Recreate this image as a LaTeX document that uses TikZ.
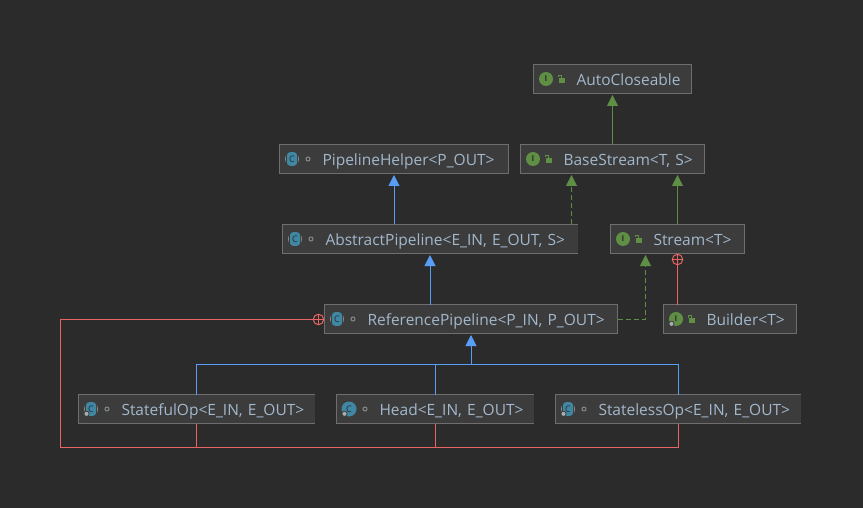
\documentclass[tikz,border=0pt]{standalone}
\usepackage{fontspec}
\setmainfont{Open Sans}
\usetikzlibrary{arrows.meta}
\definecolor{bgcol}{HTML}{2B2B2B}
\definecolor{boxcol}{HTML}{3C3C3C}
\definecolor{edgecol}{HTML}{6E6E6E}
\definecolor{textcol}{HTML}{A3B8CC}
\definecolor{bluecol}{HTML}{589DF6}
\definecolor{greencol}{HTML}{5F8F45}
\definecolor{redcol}{HTML}{E86464}
\definecolor{tealcol}{HTML}{3F87A3}
\definecolor{greycol}{HTML}{858A8C}
\tikzset{
  umlbox/.style={anchor=north west,fill=boxcol,inner xsep=0pt,inner ysep=0pt,outer sep=0pt,
    minimum height=29pt,align=left,text=textcol,font=\fontsize{15.5}{17}\selectfont,text height=14pt,text depth=1pt},
  framed/.style={draw=edgecol,line width=1pt},
  blueline/.style={draw=bluecol,line width=1pt},
  greenline/.style={draw=greencol,line width=1pt},
  redline/.style={draw=redcol,line width=1pt},
  dashline/.style={dash pattern=on 5pt off 3pt},
  bluearrow/.style={blueline,-{Triangle[width=11pt,length=11pt,fill=bluecol]},shorten >=1.5pt},
  greenarrow/.style={greenline,-{Triangle[width=11pt,length=11pt,fill=greencol]},shorten >=1.5pt},
  plusmark/.style={circle,draw=redcol,line width=1pt,minimum size=10.5pt,inner sep=0pt,outer sep=0pt,
    path picture={\draw[redcol,line width=1pt] (path picture bounding box.north) -- (path picture bounding box.south)
      (path picture bounding box.west) -- (path picture bounding box.east);}},
  ifaceicon/.pic={
    \fill[greencol] (12.5,0) circle (7pt);
    \node[text=bgcol,font=\fontsize{8}{8}\bfseries\selectfont,inner sep=0pt] at (12.5,0) {I};
    \fill[greencol] (25.8,-0.7) rectangle (31.5,3.7);
    \draw[greencol,line width=1pt] (24.5,-1.5) -- (24.5,-3.7) -- (27.5,-3.7) -- (27.5,-0.7);
  },
  classicon/.pic={
    \fill[greycol] (12.5,0) circle (7pt);
    \fill[boxcol] (6.5,-8) rectangle (18.5,8);
    \fill[tealcol,rounded corners=3pt] (7.5,-6.8) rectangle (17.5,6.8);
    \node[text=bgcol,font=\fontsize{9}{9}\selectfont,inner sep=0pt] at (12.5,0) {C};
    \draw[greycol,line width=1pt] (28.5,0) circle (2pt);
  },
  roundicon/.pic={
    \fill[tealcol] (12.5,0) circle (7.5pt);
    \node[text=bgcol,font=\fontsize{9}{9}\selectfont,inner sep=0pt] at (12.5,0) {C};
    \draw[greycol,line width=1pt] (28.5,0) circle (2pt);
  },
  gearicon/.pic={
    \draw[boxcol,line width=0.8pt,fill=greycol!70!white] (8,4.8) circle (2.6pt);
  }
}
\begin{document}
\begin{tikzpicture}[x=1pt,y=-1pt]
\fill[bgcol] (0,0) rectangle (863,508);
\useasboundingbox (0,0) rectangle (863,508);
% class boxes
\foreach \n/\x/\y/\w/\txt in {
  auto/533.5/64.5/158/AutoCloseable,
  helper/279.5/144.5/229/{PipelineHelper<P\_OUT>},
  base/520.5/144.5/184/{BaseStream<T, S>},
  abs/282.5/224.5/295/{AbstractPipeline<E\_IN, E\_OUT, S>},
  stream/610.5/224.5/134/{Stream<T>},
  ref/324.5/304.5/293/{ReferencePipeline<P\_IN, P\_OUT>},
  builder/663.5/304.5/133/{Builder<T>},
  stateful/78.5/394.5/236.5/{StatefulOp<E\_IN, E\_OUT>},
  head/336.5/394.5/197.5/{Head<E\_IN, E\_OUT>},
  stateless/555.5/394.5/245.5/{StatelessOp<E\_IN, E\_OUT>}}
  \node[umlbox,text width=\w pt] (\n) at (\x,\y) {\hspace*{43pt}\txt};
\foreach \n in {auto,helper,base,stream,ref,builder}
  \draw[framed] (\n.north west) rectangle (\n.south east);
\foreach \n in {abs,stateful,head,stateless}
  \draw[framed] (\n.north east) -- (\n.north west) -- (\n.south west) -- (\n.south east);
% icons
\foreach \n in {auto,base,stream,builder}
  \path (\n.west) pic {ifaceicon};
\foreach \n in {helper,abs,ref,stateful,stateless}
  \path (\n.west) pic {classicon};
\path (head.west) pic {roundicon};
\foreach \n in {stateful,stateless,head,builder}
  \path (\n.west) pic {gearicon};
% inheritance
\coordinate (busjoin) at (ref.south |- 0,364.5);
\coordinate (redcorner) at (60.5,447.5);
\node[plusmark] (plusref) at (318.5,319.5) {};
\node[plusmark] (plusstream) at (677.5,259.5) {};
\draw[greenarrow] (base.north -| auto.south) -- (auto.south);
\draw[bluearrow] (abs.north -| helper.south) -- (helper.south);
\draw[greenarrow,dashline] (abs.north -| 571.5,0) -- (base.south -| 571.5,0);
\draw[greenarrow] (stream.north) -- (stream.north |- base.south);
\draw[bluearrow] (ref.north -| abs.south) -- (abs.south);
\draw[greenarrow,dashline] (ref.east) -| (645.5,253.5);
\draw[bluearrow] (busjoin) -- (ref.south);
\draw[blueline] (stateful.north) |- (busjoin) -| (stateless.north);
\draw[blueline] (head.north) -- (head.north |- busjoin);
% nested
\draw[redline] (builder.north -| plusstream) -- (plusstream);
\draw[redline] (plusref) -| (redcorner) -| (stateless.south);
\draw[redline] (stateful.south) -- (stateful.south |- redcorner);
\draw[redline] (head.south) -- (head.south |- redcorner);
\end{tikzpicture}
\end{document}
